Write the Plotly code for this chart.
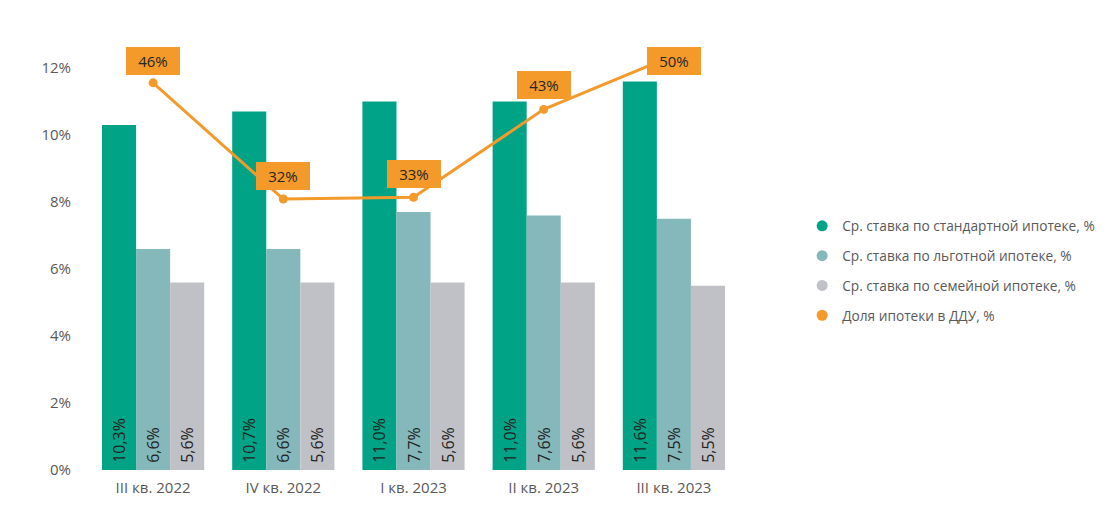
import plotly.graph_objects as go

# Quarters
quarters = ["III кв. 2022", "IV кв. 2022", "I кв. 2023", "II кв. 2023", "III кв. 2023"]

# Average mortgage rates, %
rate_standard = [10.3, 10.7, 11.0, 11.0, 11.6]
rate_preferential = [6.6, 6.6, 7.7, 7.6, 7.5]
rate_family = [5.6, 5.6, 5.6, 5.6, 5.5]

# Mortgage share in DDU, %
ddu_share = [46.4, 32.4, 32.6, 43.2, 49.7]

names = [
    "Ср. ставка по стандартной ипотеке, %",
    "Ср. ставка по льготной ипотеке, %",
    "Ср. ставка по семейной ипотеке, %",
    "Доля ипотеки в ДДУ, %",
]
colors = ["#00A385", "#84B8BA", "#BFC1C6", "#F39A2B"]

fig = go.Figure()

for vals, name, color in zip([rate_standard, rate_preferential, rate_family], names, colors):
    fig.add_trace(go.Bar(
        x=quarters, y=vals, name=name,
        marker=dict(color=color, line=dict(width=0)),
        texttemplate="\u00a0%{y:.1f}%", textposition="inside",
        insidetextanchor="start", textangle=-90,
        insidetextfont=dict(size=16, color="#1f1f1f"),
        constraintext="none",
        showlegend=False,
    ))

fig.add_trace(go.Scatter(
    x=quarters, y=ddu_share, name=names[3], yaxis="y2",
    mode="lines+markers",
    line=dict(color=colors[3], width=3),
    marker=dict(size=9, color=colors[3]),
    cliponaxis=False, showlegend=False,
))

# legend entries with round markers
for i, (name, color) in enumerate(zip(names, colors)):
    fig.add_trace(go.Scatter(
        x=[None], y=[None], mode="markers", name=name,
        marker=dict(size=11, color=color, symbol="circle"),
        legendgroup=str(i),
    ))

# boxed labels for the share line
shifts = [22, 23, 23, 24, -6]
for q, v, s in zip(quarters, ddu_share, shifts):
    fig.add_annotation(
        x=q, y=v, yref="y2", text=f"{v:.0f}%", showarrow=False,
        yshift=s, bgcolor=colors[3], bordercolor=colors[3],
        borderpad=3, font=dict(size=15, color="#262626"),
        width=46,
    )

fig.update_layout(
    width=1111, height=511,
    paper_bgcolor="white", plot_bgcolor="white",
    barmode="group", bargap=0.215, bargroupgap=0,
    separators=", ",
    font=dict(family="Open Sans, sans-serif", color="#595959", size=15),
    margin=dict(l=80, r=380, t=32, b=49),
    xaxis=dict(showgrid=False, showline=False, ticks="", tickfont=dict(size=15),
               ticklabelstandoff=7),
    yaxis=dict(range=[0, 12.836], tickvals=[0, 2, 4, 6, 8, 10, 12],
               ticktext=["0%", "2%", "4%", "6%", "8%", "10%", "12%"],
               showgrid=False, zeroline=False, showline=False,
               tickfont=dict(size=15), ticklabelstandoff=16),
    yaxis2=dict(range=[-0.25, 51.56], overlaying="y", visible=False),
    legend=dict(x=1.097, y=0.463, xanchor="left", yanchor="middle",
                font=dict(size=13.7, color="#595959"),
                traceorder="grouped", tracegroupgap=9,
                itemwidth=30),
)

fig.write_html("out.html")
